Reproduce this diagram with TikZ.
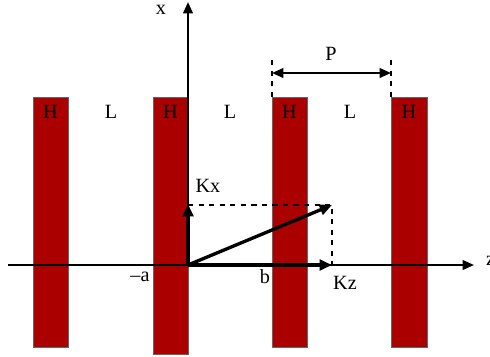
\documentclass[tikz,border=0pt]{standalone}
\usepackage{fontspec}
\setmainfont{Liberation Serif}
\usetikzlibrary{arrows.meta}
\definecolor{hred}{RGB}{170,0,0}

\begin{document}
\begin{tikzpicture}[x=0.02cm, y=-0.02cm, font=\fontsize{11.5}{13}\selectfont,
    layer/.style={fill=hred, draw=black!60, line width=0.5pt},
    axis/.style={line width=1.2pt, -{Triangle[length=6.5pt, width=5.5pt]}},
    wave/.style={line width=1.9pt, -{Triangle[length=7pt, width=6pt]}},
    guide/.style={dashed, line width=0.9pt}]
                \useasboundingbox (0,0) rectangle (490,356);
                \coordinate (O) at (188,265);
                \coordinate (Xtop) at (188,2);
                \coordinate (Zl) at (8,265);
                \coordinate (Zr) at (474,265);
                \coordinate (Kx) at (188,204);
                \coordinate (Kz) at (332,265);
                \coordinate (K) at (332,205);
                \coordinate (Kc) at (188,205);
                \coordinate (P1) at (272,97);
                \coordinate (P2) at (391,97);
                \coordinate (P1t) at (272,55);
                \coordinate (P2t) at (391,55);
                % layers
                \draw[layer] (33,97) rectangle (68,347);
                \draw[layer] (153,97) rectangle (188,354);
                \draw[layer] (272,97) rectangle (307,347);
                \draw[layer] (391,97) rectangle (427,347);
                \foreach \xh in {50.5,170.5,289.5,409}
                    \node (h\xh) at (\xh,112) {H};
                \node (l1) at (111,112) {L};
                \node (l2) at (230,112) {L};
                \node (l3) at (350,112) {L};
                % axes
                \draw[axis] (Zl) -- (Zr);
                \draw[axis] (O) -- (Xtop);
                \node (xlab) at (161,10) {x};
                \node[anchor=west] (zlab) at (480,261) {z};
                % period
                \draw[guide] (P1) -- (P1t);
                \draw[guide] (P2) -- (P2t);
                \draw[line width=1.2pt, {Triangle[length=6.5pt, width=5.5pt]}-{Triangle[length=6.5pt, width=5.5pt]}] (272,73) -- (391,73);
                \node (plab) at (331,54) {P};
                % wave vector
                \draw[guide] (Kc) -- (K) -- (Kz);
                \draw[wave] (O) -- (Kx);
                \draw[wave] (O) -- (Kz);
                \draw[wave] (O) -- (K);
                \node (kxlab) at (208,186) {Kx};
                \node (kzlab) at (345,283) {Kz};
                \node (alab) at (140,277) {–a};
                \node (blab) at (265,277) {b};
            \end{tikzpicture}
\end{document}
